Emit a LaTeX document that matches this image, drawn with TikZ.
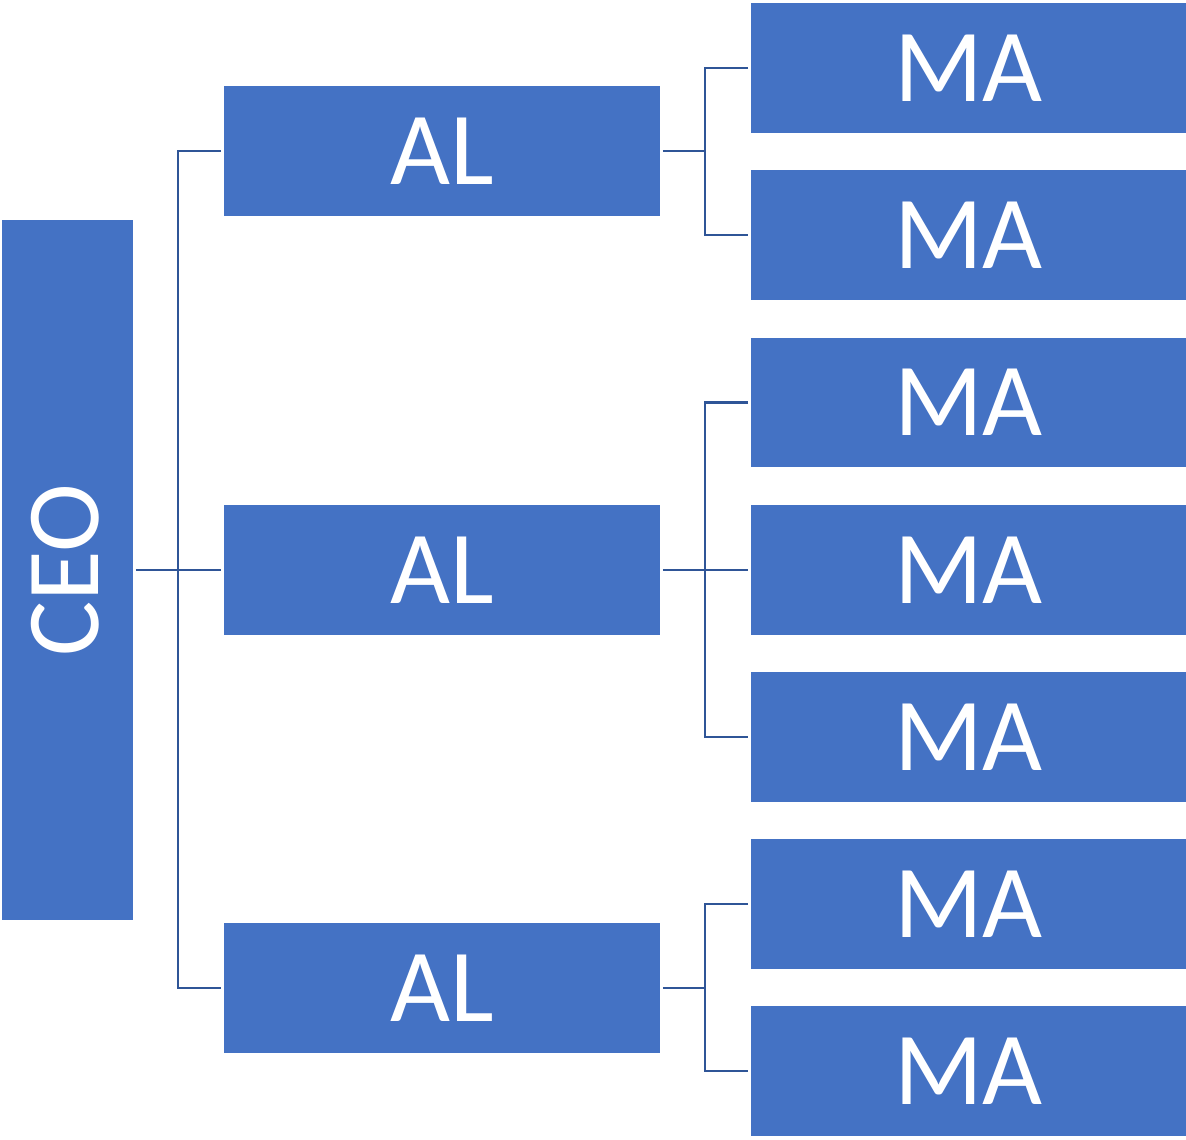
\documentclass[tikz,border=0pt]{standalone}
\usepackage{fontspec}
\setmainfont{Carlito}
\usepackage{tikz}

\definecolor{boxblue}{HTML}{4472C4}
\definecolor{linkblue}{HTML}{2F5597}

\tikzset{
  unit/.style={fill=boxblue, draw=none, text=white, inner sep=0pt, outer sep=1.6pt,
    font=\fontsize{59}{59}\selectfont},
  albox/.style={unit, minimum width=8.72cm, minimum height=2.6cm},
  mabox/.style={unit, minimum width=8.70cm, minimum height=2.6cm},
  link/.style={draw=linkblue, line width=1.5pt}
}

\begin{document}
\begin{tikzpicture}[x=0.02cm,y=-0.02cm]
    \useasboundingbox (0,0) rectangle (1186,1139);
    % top level
    \node[unit, minimum width=2.62cm, minimum height=14.02cm] (ceo) at (67.5,570) {};
    \node[text=white, rotate=90, font=\fontsize{59}{59}\selectfont] (ceotext) at (65,570) {CEO};
    % second level
    \node[albox] (al1) at (442,151) {AL};
    \node[albox] (al2) at (442,570) {AL};
    \node[albox] (al3) at (442,988) {AL};
    % third level
    \node[mabox] (ma1) at (968.5,68) {MA};
    \node[mabox] (ma2) at (968.5,235) {MA};
    \node[mabox] (ma3) at (968.5,402.5) {MA};
    \node[mabox] (ma4) at (968.5,570) {MA};
    \node[mabox] (ma5) at (968.5,737) {MA};
    \node[mabox] (ma6) at (968.5,904) {MA};
    \node[mabox] (ma7) at (968.5,1071) {MA};
    % buses
    \coordinate (ceobus) at (178,570);
    \coordinate (bus1) at (705,151);
    \coordinate (bus2) at (705,570);
    \coordinate (bus3) at (705,988);
    % connectors
    \draw[link] (ceo.east) -- (al2.west);
    \draw[link] (al1.west) -| (ceobus) |- (al3.west);
    \draw[link] (al1.east) -- (bus1);
    \draw[link] (ma1.west) -| (bus1) |- (ma2.west);
    \draw[link] (al2.east) -- (ma4.west);
    \draw[link] (ma3.west) -| (bus2) |- (ma5.west);
    \draw[link] (al3.east) -- (bus3);
    \draw[link] (ma6.west) -| (bus3) |- (ma7.west);
\end{tikzpicture}
\end{document}
